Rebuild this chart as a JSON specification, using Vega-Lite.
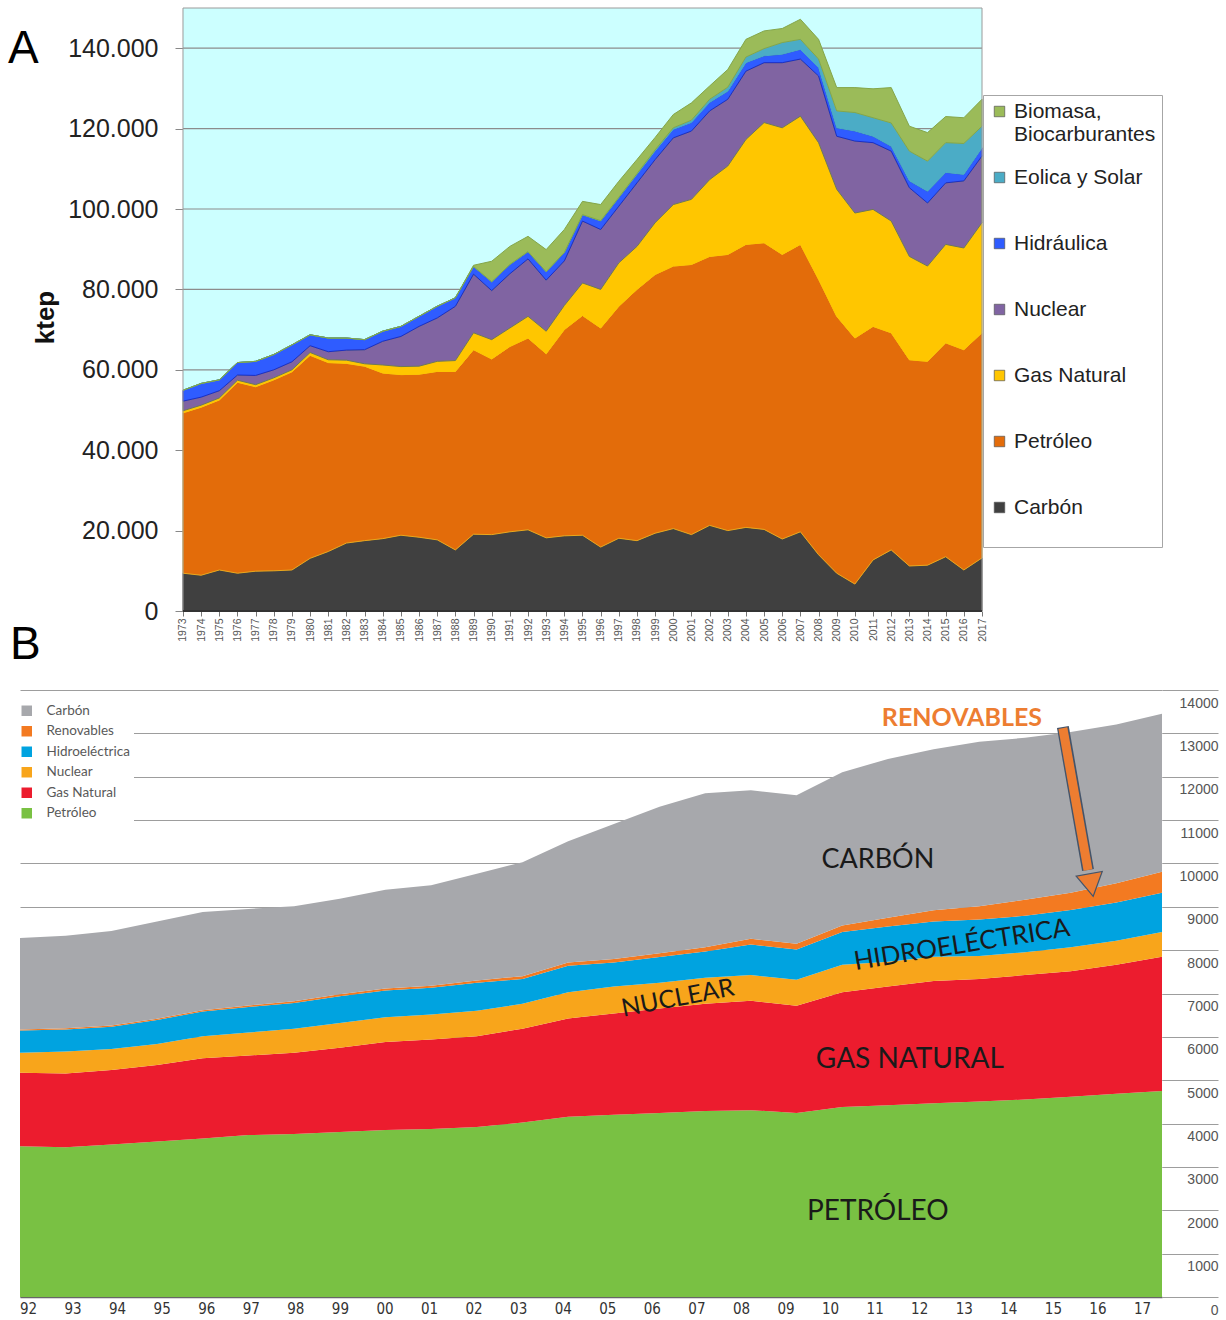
{
"$schema":"https://vega.github.io/schema/vega-lite/v6.json",
"padding":{"left":7,"top":7,"right":4,"bottom":4},
"background":"white",
"config":{"font":"Liberation Sans","view":{"stroke":null},"axis":{"labelFlush":false,"labelOverlap":false}},
"spacing":20,
"resolve":{"scale":{"color":"independent"},"legend":{"color":"independent"}},
"vconcat":[
{"width":962,"height":603,
"resolve":{"scale":{"x":"independent"}},
"layer":[
{"layer":[
{"data":{"values":[{}]},"mark":{"type":"rect","fill":"#ccffff"},
"encoding":{
"x":{"datum":1973,"type":"quantitative","scale":{"domain":[1964.024,2017],"nice":false,"zero":false},"axis":null},
"x2":{"datum":2017},
"y":{"datum":0,"type":"quantitative","scale":{"domain":[0,150000],"nice":false},
"axis":{"values":[0,20000,40000,60000,80000,100000,120000,140000],"labelExpr":"replace(format(datum.value, ','), ',', '.')","offset":-163,"labelFontSize":25,"labelColor":"#222","tickSize":8,"tickColor":"#888","domain":false,"grid":false,"labelPadding":17,"labelFlush":false,"labelOverlap":false,"title":"ktep","titleFontSize":26,"titleFontWeight":"bold","titleColor":"#111","titleX":-138,"titleY":309,"titleAlign":"center","titleBaseline":"middle","titleAngle":-90}},
"y2":{"datum":150000}}},
{"data":{"values":[{"g":20000},{"g":40000},{"g":60000},{"g":80000},{"g":100000},{"g":120000},{"g":140000}]},
"mark":{"type":"rule","stroke":"#8c8c8c","strokeWidth":1.2},
"encoding":{"y":{"field":"g","type":"quantitative"},"x":{"datum":1973,"type":"quantitative","axis":null},"x2":{"datum":2017}}},
{"data":{"values":[
{"year":1973,"fuente":"Carbón","ktep":9400},{"year":1973,"fuente":"Petróleo","ktep":39900},{"year":1973,"fuente":"Gas Natural","ktep":500},{"year":1973,"fuente":"Nuclear","ktep":2400},{"year":1973,"fuente":"Hidráulica","ktep":2700},{"year":1973,"fuente":"Eolica y Solar","ktep":0},{"year":1973,"fuente":"Biomasa, Biocarburantes","ktep":0},
{"year":1974,"fuente":"Carbón","ktep":8900},{"year":1974,"fuente":"Petróleo","ktep":41800},{"year":1974,"fuente":"Gas Natural","ktep":500},{"year":1974,"fuente":"Nuclear","ktep":2000},{"year":1974,"fuente":"Hidráulica","ktep":3400},{"year":1974,"fuente":"Eolica y Solar","ktep":0},{"year":1974,"fuente":"Biomasa, Biocarburantes","ktep":0},
{"year":1975,"fuente":"Carbón","ktep":10200},{"year":1975,"fuente":"Petróleo","ktep":42300},{"year":1975,"fuente":"Gas Natural","ktep":500},{"year":1975,"fuente":"Nuclear","ktep":1800},{"year":1975,"fuente":"Hidráulica","ktep":2700},{"year":1975,"fuente":"Eolica y Solar","ktep":0},{"year":1975,"fuente":"Biomasa, Biocarburantes","ktep":0},
{"year":1976,"fuente":"Carbón","ktep":9400},{"year":1976,"fuente":"Petróleo","ktep":47500},{"year":1976,"fuente":"Gas Natural","ktep":500},{"year":1976,"fuente":"Nuclear","ktep":1300},{"year":1976,"fuente":"Hidráulica","ktep":3100},{"year":1976,"fuente":"Eolica y Solar","ktep":0},{"year":1976,"fuente":"Biomasa, Biocarburantes","ktep":0},
{"year":1977,"fuente":"Carbón","ktep":9900},{"year":1977,"fuente":"Petróleo","ktep":45900},{"year":1977,"fuente":"Gas Natural","ktep":500},{"year":1977,"fuente":"Nuclear","ktep":2300},{"year":1977,"fuente":"Hidráulica","ktep":3500},{"year":1977,"fuente":"Eolica y Solar","ktep":0},{"year":1977,"fuente":"Biomasa, Biocarburantes","ktep":0},
{"year":1978,"fuente":"Carbón","ktep":10000},{"year":1978,"fuente":"Petróleo","ktep":47500},{"year":1978,"fuente":"Gas Natural","ktep":500},{"year":1978,"fuente":"Nuclear","ktep":2000},{"year":1978,"fuente":"Hidráulica","ktep":3800},{"year":1978,"fuente":"Eolica y Solar","ktep":0},{"year":1978,"fuente":"Biomasa, Biocarburantes","ktep":0},
{"year":1979,"fuente":"Carbón","ktep":10200},{"year":1979,"fuente":"Petróleo","ktep":49300},{"year":1979,"fuente":"Gas Natural","ktep":500},{"year":1979,"fuente":"Nuclear","ktep":2000},{"year":1979,"fuente":"Hidráulica","ktep":4200},{"year":1979,"fuente":"Eolica y Solar","ktep":0},{"year":1979,"fuente":"Biomasa, Biocarburantes","ktep":0},
{"year":1980,"fuente":"Carbón","ktep":13100},{"year":1980,"fuente":"Petróleo","ktep":50500},{"year":1980,"fuente":"Gas Natural","ktep":700},{"year":1980,"fuente":"Nuclear","ktep":1700},{"year":1980,"fuente":"Hidráulica","ktep":2700},{"year":1980,"fuente":"Eolica y Solar","ktep":0},{"year":1980,"fuente":"Biomasa, Biocarburantes","ktep":0},
{"year":1981,"fuente":"Carbón","ktep":14800},{"year":1981,"fuente":"Petróleo","ktep":47000},{"year":1981,"fuente":"Gas Natural","ktep":700},{"year":1981,"fuente":"Nuclear","ktep":2000},{"year":1981,"fuente":"Hidráulica","ktep":3400},{"year":1981,"fuente":"Eolica y Solar","ktep":0},{"year":1981,"fuente":"Biomasa, Biocarburantes","ktep":0},
{"year":1982,"fuente":"Carbón","ktep":16900},{"year":1982,"fuente":"Petróleo","ktep":44700},{"year":1982,"fuente":"Gas Natural","ktep":800},{"year":1982,"fuente":"Nuclear","ktep":2500},{"year":1982,"fuente":"Hidráulica","ktep":3000},{"year":1982,"fuente":"Eolica y Solar","ktep":0},{"year":1982,"fuente":"Biomasa, Biocarburantes","ktep":0},
{"year":1983,"fuente":"Carbón","ktep":17500},{"year":1983,"fuente":"Petróleo","ktep":43400},{"year":1983,"fuente":"Gas Natural","ktep":600},{"year":1983,"fuente":"Nuclear","ktep":3500},{"year":1983,"fuente":"Hidráulica","ktep":2500},{"year":1983,"fuente":"Eolica y Solar","ktep":0},{"year":1983,"fuente":"Biomasa, Biocarburantes","ktep":0},
{"year":1984,"fuente":"Carbón","ktep":18000},{"year":1984,"fuente":"Petróleo","ktep":41200},{"year":1984,"fuente":"Gas Natural","ktep":2000},{"year":1984,"fuente":"Nuclear","ktep":5900},{"year":1984,"fuente":"Hidráulica","ktep":2500},{"year":1984,"fuente":"Eolica y Solar","ktep":0},{"year":1984,"fuente":"Biomasa, Biocarburantes","ktep":0},
{"year":1985,"fuente":"Carbón","ktep":18850},{"year":1985,"fuente":"Petróleo","ktep":39950},{"year":1985,"fuente":"Gas Natural","ktep":2000},{"year":1985,"fuente":"Nuclear","ktep":7500},{"year":1985,"fuente":"Hidráulica","ktep":2500},{"year":1985,"fuente":"Eolica y Solar","ktep":0},{"year":1985,"fuente":"Biomasa, Biocarburantes","ktep":0},
{"year":1986,"fuente":"Carbón","ktep":18350},{"year":1986,"fuente":"Petróleo","ktep":40550},{"year":1986,"fuente":"Gas Natural","ktep":2000},{"year":1986,"fuente":"Nuclear","ktep":9900},{"year":1986,"fuente":"Hidráulica","ktep":2500},{"year":1986,"fuente":"Eolica y Solar","ktep":0},{"year":1986,"fuente":"Biomasa, Biocarburantes","ktep":0},
{"year":1987,"fuente":"Carbón","ktep":17700},{"year":1987,"fuente":"Petróleo","ktep":41900},{"year":1987,"fuente":"Gas Natural","ktep":2500},{"year":1987,"fuente":"Nuclear","ktep":10800},{"year":1987,"fuente":"Hidráulica","ktep":2900},{"year":1987,"fuente":"Eolica y Solar","ktep":0},{"year":1987,"fuente":"Biomasa, Biocarburantes","ktep":0},
{"year":1988,"fuente":"Carbón","ktep":15200},{"year":1988,"fuente":"Petróleo","ktep":44400},{"year":1988,"fuente":"Gas Natural","ktep":2700},{"year":1988,"fuente":"Nuclear","ktep":13500},{"year":1988,"fuente":"Hidráulica","ktep":2100},{"year":1988,"fuente":"Eolica y Solar","ktep":0},{"year":1988,"fuente":"Biomasa, Biocarburantes","ktep":0},
{"year":1989,"fuente":"Carbón","ktep":19100},{"year":1989,"fuente":"Petróleo","ktep":45900},{"year":1989,"fuente":"Gas Natural","ktep":4200},{"year":1989,"fuente":"Nuclear","ktep":14600},{"year":1989,"fuente":"Hidráulica","ktep":1900},{"year":1989,"fuente":"Eolica y Solar","ktep":0},{"year":1989,"fuente":"Biomasa, Biocarburantes","ktep":300},
{"year":1990,"fuente":"Carbón","ktep":19000},{"year":1990,"fuente":"Petróleo","ktep":43700},{"year":1990,"fuente":"Gas Natural","ktep":4800},{"year":1990,"fuente":"Nuclear","ktep":12200},{"year":1990,"fuente":"Hidráulica","ktep":2200},{"year":1990,"fuente":"Eolica y Solar","ktep":0},{"year":1990,"fuente":"Biomasa, Biocarburantes","ktep":5100},
{"year":1991,"fuente":"Carbón","ktep":19700},{"year":1991,"fuente":"Petróleo","ktep":46100},{"year":1991,"fuente":"Gas Natural","ktep":4600},{"year":1991,"fuente":"Nuclear","ktep":13500},{"year":1991,"fuente":"Hidráulica","ktep":2300},{"year":1991,"fuente":"Eolica y Solar","ktep":0},{"year":1991,"fuente":"Biomasa, Biocarburantes","ktep":4500},
{"year":1992,"fuente":"Carbón","ktep":20200},{"year":1992,"fuente":"Petróleo","ktep":47700},{"year":1992,"fuente":"Gas Natural","ktep":5400},{"year":1992,"fuente":"Nuclear","ktep":14300},{"year":1992,"fuente":"Hidráulica","ktep":1800},{"year":1992,"fuente":"Eolica y Solar","ktep":0},{"year":1992,"fuente":"Biomasa, Biocarburantes","ktep":3800},
{"year":1993,"fuente":"Carbón","ktep":18200},{"year":1993,"fuente":"Petróleo","ktep":45800},{"year":1993,"fuente":"Gas Natural","ktep":5600},{"year":1993,"fuente":"Nuclear","ktep":12700},{"year":1993,"fuente":"Hidráulica","ktep":2100},{"year":1993,"fuente":"Eolica y Solar","ktep":0},{"year":1993,"fuente":"Biomasa, Biocarburantes","ktep":5500},
{"year":1994,"fuente":"Carbón","ktep":18700},{"year":1994,"fuente":"Petróleo","ktep":51300},{"year":1994,"fuente":"Gas Natural","ktep":6000},{"year":1994,"fuente":"Nuclear","ktep":11100},{"year":1994,"fuente":"Hidráulica","ktep":2100},{"year":1994,"fuente":"Eolica y Solar","ktep":0},{"year":1994,"fuente":"Biomasa, Biocarburantes","ktep":5700},
{"year":1995,"fuente":"Carbón","ktep":18850},{"year":1995,"fuente":"Petróleo","ktep":54650},{"year":1995,"fuente":"Gas Natural","ktep":8100},{"year":1995,"fuente":"Nuclear","ktep":15400},{"year":1995,"fuente":"Hidráulica","ktep":1600},{"year":1995,"fuente":"Eolica y Solar","ktep":0},{"year":1995,"fuente":"Biomasa, Biocarburantes","ktep":3300},
{"year":1996,"fuente":"Carbón","ktep":15900},{"year":1996,"fuente":"Petróleo","ktep":54500},{"year":1996,"fuente":"Gas Natural","ktep":9600},{"year":1996,"fuente":"Nuclear","ktep":14900},{"year":1996,"fuente":"Hidráulica","ktep":2100},{"year":1996,"fuente":"Eolica y Solar","ktep":100},{"year":1996,"fuente":"Biomasa, Biocarburantes","ktep":4000},
{"year":1997,"fuente":"Carbón","ktep":18100},{"year":1997,"fuente":"Petróleo","ktep":57700},{"year":1997,"fuente":"Gas Natural","ktep":10800},{"year":1997,"fuente":"Nuclear","ktep":14100},{"year":1997,"fuente":"Hidráulica","ktep":2100},{"year":1997,"fuente":"Eolica y Solar","ktep":100},{"year":1997,"fuente":"Biomasa, Biocarburantes","ktep":4000},
{"year":1998,"fuente":"Carbón","ktep":17500},{"year":1998,"fuente":"Petróleo","ktep":62500},{"year":1998,"fuente":"Gas Natural","ktep":10700},{"year":1998,"fuente":"Nuclear","ktep":15800},{"year":1998,"fuente":"Hidráulica","ktep":2100},{"year":1998,"fuente":"Eolica y Solar","ktep":200},{"year":1998,"fuente":"Biomasa, Biocarburantes","ktep":3500},
{"year":1999,"fuente":"Carbón","ktep":19350},{"year":1999,"fuente":"Petróleo","ktep":64350},{"year":1999,"fuente":"Gas Natural","ktep":12900},{"year":1999,"fuente":"Nuclear","ktep":15700},{"year":1999,"fuente":"Hidráulica","ktep":2100},{"year":1999,"fuente":"Eolica y Solar","ktep":300},{"year":1999,"fuente":"Biomasa, Biocarburantes","ktep":3100},
{"year":2000,"fuente":"Carbón","ktep":20500},{"year":2000,"fuente":"Petróleo","ktep":65300},{"year":2000,"fuente":"Gas Natural","ktep":15300},{"year":2000,"fuente":"Nuclear","ktep":16600},{"year":2000,"fuente":"Hidráulica","ktep":2100},{"year":2000,"fuente":"Eolica y Solar","ktep":400},{"year":2000,"fuente":"Biomasa, Biocarburantes","ktep":3300},
{"year":2001,"fuente":"Carbón","ktep":19000},{"year":2001,"fuente":"Petróleo","ktep":67200},{"year":2001,"fuente":"Gas Natural","ktep":16200},{"year":2001,"fuente":"Nuclear","ktep":17000},{"year":2001,"fuente":"Hidráulica","ktep":2100},{"year":2001,"fuente":"Eolica y Solar","ktep":600},{"year":2001,"fuente":"Biomasa, Biocarburantes","ktep":4300},
{"year":2002,"fuente":"Carbón","ktep":21300},{"year":2002,"fuente":"Petróleo","ktep":66900},{"year":2002,"fuente":"Gas Natural","ktep":19100},{"year":2002,"fuente":"Nuclear","ktep":17100},{"year":2002,"fuente":"Hidráulica","ktep":2100},{"year":2002,"fuente":"Eolica y Solar","ktep":800},{"year":2002,"fuente":"Biomasa, Biocarburantes","ktep":3300},
{"year":2003,"fuente":"Carbón","ktep":20000},{"year":2003,"fuente":"Petróleo","ktep":68700},{"year":2003,"fuente":"Gas Natural","ktep":22000},{"year":2003,"fuente":"Nuclear","ktep":16600},{"year":2003,"fuente":"Hidráulica","ktep":2000},{"year":2003,"fuente":"Eolica y Solar","ktep":1000},{"year":2003,"fuente":"Biomasa, Biocarburantes","ktep":4400},
{"year":2004,"fuente":"Carbón","ktep":20800},{"year":2004,"fuente":"Petróleo","ktep":70400},{"year":2004,"fuente":"Gas Natural","ktep":26100},{"year":2004,"fuente":"Nuclear","ktep":17000},{"year":2004,"fuente":"Hidráulica","ktep":2100},{"year":2004,"fuente":"Eolica y Solar","ktep":1400},{"year":2004,"fuente":"Biomasa, Biocarburantes","ktep":4400},
{"year":2005,"fuente":"Carbón","ktep":20300},{"year":2005,"fuente":"Petróleo","ktep":71300},{"year":2005,"fuente":"Gas Natural","ktep":29900},{"year":2005,"fuente":"Nuclear","ktep":14900},{"year":2005,"fuente":"Hidráulica","ktep":1700},{"year":2005,"fuente":"Eolica y Solar","ktep":1800},{"year":2005,"fuente":"Biomasa, Biocarburantes","ktep":4400},
{"year":2006,"fuente":"Carbón","ktep":17900},{"year":2006,"fuente":"Petróleo","ktep":70800},{"year":2006,"fuente":"Gas Natural","ktep":31500},{"year":2006,"fuente":"Nuclear","ktep":16200},{"year":2006,"fuente":"Hidráulica","ktep":2100},{"year":2006,"fuente":"Eolica y Solar","ktep":2900},{"year":2006,"fuente":"Biomasa, Biocarburantes","ktep":3500},
{"year":2007,"fuente":"Carbón","ktep":19700},{"year":2007,"fuente":"Petróleo","ktep":71500},{"year":2007,"fuente":"Gas Natural","ktep":31900},{"year":2007,"fuente":"Nuclear","ktep":14200},{"year":2007,"fuente":"Hidráulica","ktep":2400},{"year":2007,"fuente":"Eolica y Solar","ktep":2500},{"year":2007,"fuente":"Biomasa, Biocarburantes","ktep":5000},
{"year":2008,"fuente":"Carbón","ktep":14000},{"year":2008,"fuente":"Petróleo","ktep":68500},{"year":2008,"fuente":"Gas Natural","ktep":34000},{"year":2008,"fuente":"Nuclear","ktep":16600},{"year":2008,"fuente":"Hidráulica","ktep":2100},{"year":2008,"fuente":"Eolica y Solar","ktep":2100},{"year":2008,"fuente":"Biomasa, Biocarburantes","ktep":4900},
{"year":2009,"fuente":"Carbón","ktep":9400},{"year":2009,"fuente":"Petróleo","ktep":63900},{"year":2009,"fuente":"Gas Natural","ktep":31600},{"year":2009,"fuente":"Nuclear","ktep":13200},{"year":2009,"fuente":"Hidráulica","ktep":2100},{"year":2009,"fuente":"Eolica y Solar","ktep":4200},{"year":2009,"fuente":"Biomasa, Biocarburantes","ktep":5800},
{"year":2010,"fuente":"Carbón","ktep":6700},{"year":2010,"fuente":"Petróleo","ktep":61200},{"year":2010,"fuente":"Gas Natural","ktep":31100},{"year":2010,"fuente":"Nuclear","ktep":17900},{"year":2010,"fuente":"Hidráulica","ktep":2500},{"year":2010,"fuente":"Eolica y Solar","ktep":4600},{"year":2010,"fuente":"Biomasa, Biocarburantes","ktep":6200},
{"year":2011,"fuente":"Carbón","ktep":12700},{"year":2011,"fuente":"Petróleo","ktep":58100},{"year":2011,"fuente":"Gas Natural","ktep":29100},{"year":2011,"fuente":"Nuclear","ktep":16600},{"year":2011,"fuente":"Hidráulica","ktep":1600},{"year":2011,"fuente":"Eolica y Solar","ktep":4600},{"year":2011,"fuente":"Biomasa, Biocarburantes","ktep":7200},
{"year":2012,"fuente":"Carbón","ktep":15200},{"year":2012,"fuente":"Petróleo","ktep":54000},{"year":2012,"fuente":"Gas Natural","ktep":27800},{"year":2012,"fuente":"Nuclear","ktep":17400},{"year":2012,"fuente":"Hidráulica","ktep":1200},{"year":2012,"fuente":"Eolica y Solar","ktep":5800},{"year":2012,"fuente":"Biomasa, Biocarburantes","ktep":8800},
{"year":2013,"fuente":"Carbón","ktep":11200},{"year":2013,"fuente":"Petróleo","ktep":51300},{"year":2013,"fuente":"Gas Natural","ktep":25700},{"year":2013,"fuente":"Nuclear","ktep":17100},{"year":2013,"fuente":"Hidráulica","ktep":1700},{"year":2013,"fuente":"Eolica y Solar","ktep":7400},{"year":2013,"fuente":"Biomasa, Biocarburantes","ktep":6200},
{"year":2014,"fuente":"Carbón","ktep":11400},{"year":2014,"fuente":"Petróleo","ktep":50700},{"year":2014,"fuente":"Gas Natural","ktep":23700},{"year":2014,"fuente":"Nuclear","ktep":15700},{"year":2014,"fuente":"Hidráulica","ktep":2900},{"year":2014,"fuente":"Eolica y Solar","ktep":7500},{"year":2014,"fuente":"Biomasa, Biocarburantes","ktep":7100},
{"year":2015,"fuente":"Carbón","ktep":13500},{"year":2015,"fuente":"Petróleo","ktep":53200},{"year":2015,"fuente":"Gas Natural","ktep":24500},{"year":2015,"fuente":"Nuclear","ktep":15300},{"year":2015,"fuente":"Hidráulica","ktep":2600},{"year":2015,"fuente":"Eolica y Solar","ktep":7400},{"year":2015,"fuente":"Biomasa, Biocarburantes","ktep":6500},
{"year":2016,"fuente":"Carbón","ktep":10200},{"year":2016,"fuente":"Petróleo","ktep":54800},{"year":2016,"fuente":"Gas Natural","ktep":25300},{"year":2016,"fuente":"Nuclear","ktep":16700},{"year":2016,"fuente":"Hidráulica","ktep":1600},{"year":2016,"fuente":"Eolica y Solar","ktep":7700},{"year":2016,"fuente":"Biomasa, Biocarburantes","ktep":6400},
{"year":2017,"fuente":"Carbón","ktep":13200},{"year":2017,"fuente":"Petróleo","ktep":56000},{"year":2017,"fuente":"Gas Natural","ktep":27400},{"year":2017,"fuente":"Nuclear","ktep":16600},{"year":2017,"fuente":"Hidráulica","ktep":2000},{"year":2017,"fuente":"Eolica y Solar","ktep":5400},{"year":2017,"fuente":"Biomasa, Biocarburantes","ktep":6700}
]},
"transform":[{"lookup":"fuente","from":{"data":{"values":[{"fuente":"Carbón","orden":1},{"fuente":"Petróleo","orden":2},{"fuente":"Gas Natural","orden":3},{"fuente":"Nuclear","orden":4},{"fuente":"Hidráulica","orden":5},{"fuente":"Eolica y Solar","orden":6},{"fuente":"Biomasa, Biocarburantes","orden":7}]},"key":"fuente","fields":["orden"]}}],
"mark":{"type":"area","strokeWidth":1},
"encoding":{
"x":{"field":"year","type":"quantitative","axis":null},
"y":{"field":"ktep","type":"quantitative","stack":"zero"},
"order":{"field":"orden","type":"quantitative","sort":"ascending"},
"stroke":{"field":"fuente","type":"nominal","legend":null,
"scale":{"domain":["Biomasa, Biocarburantes","Eolica y Solar","Hidráulica","Nuclear","Gas Natural","Petróleo","Carbón"],"range":["#84a64a","#4bacc6","#1c2cc8","#6e7a55","#ffc600","#eaa81c","#404040"]}},
"color":{"field":"fuente","type":"nominal",
"scale":{"domain":["Biomasa, Biocarburantes","Eolica y Solar","Hidráulica","Nuclear","Gas Natural","Petróleo","Carbón"],"range":["#9bbb59","#4bacc6","#2f5cff","#8064a2","#ffc600","#e36c0a","#404040"]},
"legend":{"orient":"none","legendX":963,"legendY":87,"title":null,"fillColor":"white","strokeColor":"#a6a6a6","padding":6,"symbolType":"square","symbolSize":110,"symbolStrokeColor":"#555","symbolStrokeWidth":0.7,"labelFont":"Liberation Sans","labelFontSize":21,"labelColor":"#222","labelOffset":4,"labelLimit":260,"rowPadding":21,
"values":["Biomasa, Biocarburantes","Eolica y Solar","Hidráulica","Nuclear","Gas Natural","Petróleo","Carbón"],
"labelExpr":"datum.label == 'Biomasa, Biocarburantes' ? ['Biomasa,', 'Biocarburantes'] : [datum.label, ' ']"}}}},
{"data":{"values":[{}]},"mark":{"type":"rect","fillOpacity":0,"stroke":"#9a9a9a","strokeWidth":1},
"encoding":{"x":{"datum":1973,"type":"quantitative","axis":null},"x2":{"datum":2017},"y":{"datum":0,"type":"quantitative"},"y2":{"datum":150000}}},
{"data":{"values":[{}]},"mark":{"type":"rule","stroke":"#333","strokeWidth":2},
"encoding":{"x":{"datum":1973,"type":"quantitative","axis":null},"x2":{"datum":2017},"y":{"datum":0,"type":"quantitative"}}},
{"data":{"values":[{}]},"mark":{"type":"text","text":"A","fontSize":46,"align":"left","baseline":"middle","color":"#000"},
"encoding":{"x":{"datum":1963.363,"type":"quantitative","axis":null},"y":{"datum":139700,"type":"quantitative"}}},
{"data":{"values":[{}]},"mark":{"type":"text","text":"B","fontSize":46,"align":"left","baseline":"middle","color":"#000"},
"encoding":{"x":{"datum":1963.473,"type":"quantitative","axis":null},"y":{"datum":-8470,"type":"quantitative"}}}
]},
{"data":{"values":[{}]},"mark":{"type":"rule","opacity":0},
"encoding":{"x":{"datum":1990,"type":"quantitative","scale":{"domain":[1964.024,2017],"nice":false,"zero":false},
"axis":{"orient":"bottom","values":[1973,1974,1975,1976,1977,1978,1979,1980,1981,1982,1983,1984,1985,1986,1987,1988,1989,1990,1991,1992,1993,1994,1995,1996,1997,1998,1999,2000,2001,2002,2003,2004,2005,2006,2007,2008,2009,2010,2011,2012,2013,2014,2015,2016,2017],"format":"d","labelAngle":-90,"labelFontSize":10.5,"labelColor":"#555","tickSize":5,"tickColor":"#777","domain":false,"grid":false,"title":null,"labelPadding":2,"labelOverlap":false,"labelSeparation":0,"labelFlush":false}}}}
]},
{"width":1142,"height":607,
"resolve":{"scale":{"x":"independent"}},
"layer":[
{"layer":[
{"data":{"values":[
{"year":1992,"fuente":"Petróleo","mtep":3478},{"year":1992,"fuente":"Gas Natural","mtep":1695},{"year":1992,"fuente":"Nuclear","mtep":459},{"year":1992,"fuente":"Hidroeléctrica","mtep":512},{"year":1992,"fuente":"Renovables","mtep":26},{"year":1992,"fuente":"Carbón","mtep":2110},
{"year":1993,"fuente":"Petróleo","mtep":3452},{"year":1993,"fuente":"Gas Natural","mtep":1703},{"year":1993,"fuente":"Nuclear","mtep":505},{"year":1993,"fuente":"Hidroeléctrica","mtep":510},{"year":1993,"fuente":"Renovables","mtep":26},{"year":1993,"fuente":"Carbón","mtep":2137},
{"year":1994,"fuente":"Petróleo","mtep":3515},{"year":1994,"fuente":"Gas Natural","mtep":1721},{"year":1994,"fuente":"Nuclear","mtep":484},{"year":1994,"fuente":"Hidroeléctrica","mtep":512},{"year":1994,"fuente":"Renovables","mtep":28},{"year":1994,"fuente":"Carbón","mtep":2179},
{"year":1995,"fuente":"Petróleo","mtep":3584},{"year":1995,"fuente":"Gas Natural","mtep":1767},{"year":1995,"fuente":"Nuclear","mtep":484},{"year":1995,"fuente":"Hidroeléctrica","mtep":556},{"year":1995,"fuente":"Renovables","mtep":29},{"year":1995,"fuente":"Carbón","mtep":2240},
{"year":1996,"fuente":"Petróleo","mtep":3656},{"year":1996,"fuente":"Gas Natural","mtep":1852},{"year":1996,"fuente":"Nuclear","mtep":505},{"year":1996,"fuente":"Hidroeléctrica","mtep":572},{"year":1996,"fuente":"Renovables","mtep":30},{"year":1996,"fuente":"Carbón","mtep":2264},
{"year":1997,"fuente":"Petróleo","mtep":3734},{"year":1997,"fuente":"Gas Natural","mtep":1836},{"year":1997,"fuente":"Nuclear","mtep":530},{"year":1997,"fuente":"Hidroeléctrica","mtep":591},{"year":1997,"fuente":"Renovables","mtep":34},{"year":1997,"fuente":"Carbón","mtep":2226},
{"year":1998,"fuente":"Petróleo","mtep":3762},{"year":1998,"fuente":"Gas Natural","mtep":1870},{"year":1998,"fuente":"Nuclear","mtep":556},{"year":1998,"fuente":"Hidroeléctrica","mtep":593},{"year":1998,"fuente":"Renovables","mtep":39},{"year":1998,"fuente":"Carbón","mtep":2192},
{"year":1999,"fuente":"Petróleo","mtep":3805},{"year":1999,"fuente":"Gas Natural","mtep":1942},{"year":1999,"fuente":"Nuclear","mtep":572},{"year":1999,"fuente":"Hidroeléctrica","mtep":619},{"year":1999,"fuente":"Renovables","mtep":42},{"year":1999,"fuente":"Carbón","mtep":2208},
{"year":2000,"fuente":"Petróleo","mtep":3849},{"year":2000,"fuente":"Gas Natural","mtep":2030},{"year":2000,"fuente":"Nuclear","mtep":574},{"year":2000,"fuente":"Hidroeléctrica","mtep":618},{"year":2000,"fuente":"Renovables","mtep":44},{"year":2000,"fuente":"Carbón","mtep":2276},
{"year":2001,"fuente":"Petróleo","mtep":3875},{"year":2001,"fuente":"Gas Natural","mtep":2066},{"year":2001,"fuente":"Nuclear","mtep":574},{"year":2001,"fuente":"Hidroeléctrica","mtep":618},{"year":2001,"fuente":"Renovables","mtep":47},{"year":2001,"fuente":"Carbón","mtep":2317},
{"year":2002,"fuente":"Petróleo","mtep":3920},{"year":2002,"fuente":"Gas Natural","mtep":2093},{"year":2002,"fuente":"Nuclear","mtep":590},{"year":2002,"fuente":"Hidroeléctrica","mtep":644},{"year":2002,"fuente":"Renovables","mtep":53},{"year":2002,"fuente":"Carbón","mtep":2463},
{"year":2003,"fuente":"Petróleo","mtep":4025},{"year":2003,"fuente":"Gas Natural","mtep":2163},{"year":2003,"fuente":"Nuclear","mtep":574},{"year":2003,"fuente":"Hidroeléctrica","mtep":574},{"year":2003,"fuente":"Renovables","mtep":64},{"year":2003,"fuente":"Carbón","mtep":2628},
{"year":2004,"fuente":"Petróleo","mtep":4158},{"year":2004,"fuente":"Gas Natural","mtep":2267},{"year":2004,"fuente":"Nuclear","mtep":603},{"year":2004,"fuente":"Hidroeléctrica","mtep":612},{"year":2004,"fuente":"Renovables","mtep":75},{"year":2004,"fuente":"Carbón","mtep":2797},
{"year":2005,"fuente":"Petróleo","mtep":4202},{"year":2005,"fuente":"Gas Natural","mtep":2339},{"year":2005,"fuente":"Nuclear","mtep":618},{"year":2005,"fuente":"Hidroeléctrica","mtep":556},{"year":2005,"fuente":"Renovables","mtep":81},{"year":2005,"fuente":"Carbón","mtep":3115},
{"year":2006,"fuente":"Petróleo","mtep":4246},{"year":2006,"fuente":"Gas Natural","mtep":2410},{"year":2006,"fuente":"Nuclear","mtep":591},{"year":2006,"fuente":"Hidroeléctrica","mtep":592},{"year":2006,"fuente":"Renovables","mtep":88},{"year":2006,"fuente":"Carbón","mtep":3381},
{"year":2007,"fuente":"Petróleo","mtep":4290},{"year":2007,"fuente":"Gas Natural","mtep":2472},{"year":2007,"fuente":"Nuclear","mtep":600},{"year":2007,"fuente":"Hidroeléctrica","mtep":609},{"year":2007,"fuente":"Renovables","mtep":97},{"year":2007,"fuente":"Carbón","mtep":3549},
{"year":2008,"fuente":"Petróleo","mtep":4308},{"year":2008,"fuente":"Gas Natural","mtep":2524},{"year":2008,"fuente":"Nuclear","mtep":592},{"year":2008,"fuente":"Hidroeléctrica","mtep":706},{"year":2008,"fuente":"Renovables","mtep":132},{"year":2008,"fuente":"Carbón","mtep":3424},
{"year":2009,"fuente":"Petróleo","mtep":4246},{"year":2009,"fuente":"Gas Natural","mtep":2472},{"year":2009,"fuente":"Nuclear","mtep":600},{"year":2009,"fuente":"Hidroeléctrica","mtep":697},{"year":2009,"fuente":"Renovables","mtep":135},{"year":2009,"fuente":"Carbón","mtep":3423},
{"year":2010,"fuente":"Petróleo","mtep":4380},{"year":2010,"fuente":"Gas Natural","mtep":2648},{"year":2010,"fuente":"Nuclear","mtep":634},{"year":2010,"fuente":"Hidroeléctrica","mtep":758},{"year":2010,"fuente":"Renovables","mtep":150},{"year":2010,"fuente":"Carbón","mtep":3531},
{"year":2011,"fuente":"Petróleo","mtep":4424},{"year":2011,"fuente":"Gas Natural","mtep":2735},{"year":2011,"fuente":"Nuclear","mtep":574},{"year":2011,"fuente":"Hidroeléctrica","mtep":812},{"year":2011,"fuente":"Renovables","mtep":203},{"year":2011,"fuente":"Carbón","mtep":3662},
{"year":2012,"fuente":"Petróleo","mtep":4467},{"year":2012,"fuente":"Gas Natural","mtep":2823},{"year":2012,"fuente":"Nuclear","mtep":556},{"year":2012,"fuente":"Hidroeléctrica","mtep":813},{"year":2012,"fuente":"Renovables","mtep":263},{"year":2012,"fuente":"Carbón","mtep":3709},
{"year":2013,"fuente":"Petróleo","mtep":4511},{"year":2013,"fuente":"Gas Natural","mtep":2825},{"year":2013,"fuente":"Nuclear","mtep":529},{"year":2013,"fuente":"Hidroeléctrica","mtep":839},{"year":2013,"fuente":"Renovables","mtep":309},{"year":2013,"fuente":"Carbón","mtep":3795},
{"year":2014,"fuente":"Petróleo","mtep":4555},{"year":2014,"fuente":"Gas Natural","mtep":2869},{"year":2014,"fuente":"Nuclear","mtep":530},{"year":2014,"fuente":"Hidroeléctrica","mtep":838},{"year":2014,"fuente":"Renovables","mtep":371},{"year":2014,"fuente":"Carbón","mtep":3734},
{"year":2015,"fuente":"Petróleo","mtep":4617},{"year":2015,"fuente":"Gas Natural","mtep":2895},{"year":2015,"fuente":"Nuclear","mtep":556},{"year":2015,"fuente":"Hidroeléctrica","mtep":856},{"year":2015,"fuente":"Renovables","mtep":398},{"year":2015,"fuente":"Carbón","mtep":3707},
{"year":2016,"fuente":"Petróleo","mtep":4689},{"year":2016,"fuente":"Gas Natural","mtep":2973},{"year":2016,"fuente":"Nuclear","mtep":556},{"year":2016,"fuente":"Hidroeléctrica","mtep":883},{"year":2016,"fuente":"Renovables","mtep":440},{"year":2016,"fuente":"Carbón","mtep":3665},
{"year":2017,"fuente":"Petróleo","mtep":4749},{"year":2017,"fuente":"Gas Natural","mtep":3100},{"year":2017,"fuente":"Nuclear","mtep":571},{"year":2017,"fuente":"Hidroeléctrica","mtep":902},{"year":2017,"fuente":"Renovables","mtep":485},{"year":2017,"fuente":"Carbón","mtep":3646}
]},
"transform":[{"lookup":"fuente","from":{"data":{"values":[{"fuente":"Petróleo","orden":1},{"fuente":"Gas Natural","orden":2},{"fuente":"Nuclear","orden":3},{"fuente":"Hidroeléctrica","orden":4},{"fuente":"Renovables","orden":5},{"fuente":"Carbón","orden":6}]},"key":"fuente","fields":["orden"]}}],
"mark":{"type":"area"},
"encoding":{
"x":{"field":"year","type":"quantitative","scale":{"domain":[1992,2017],"nice":false,"zero":false},"axis":null},
"y":{"field":"mtep","type":"quantitative","stack":"zero","scale":{"domain":[0,14000],"nice":false},
"axis":{"orient":"right","values":[0,1000,2000,3000,4000,5000,6000,7000,8000,9000,10000,11000,12000,13000,14000],"format":"d","grid":true,"gridColor":"#9d9d9d","gridWidth":1,"tickSize":56,"tickColor":"#9d9d9d","tickWidth":1,"domain":false,"labelAlign":"right","labelBaseline":"middle","labelPadding":0,"labelOffset":13,"labelFontSize":14,"labelColor":"#555","labelFlush":false,"labelOverlap":false,"title":null}},
"order":{"field":"orden","type":"quantitative","sort":"ascending"},
"color":{"field":"fuente","type":"nominal",
"scale":{"domain":["Carbón","Renovables","Hidroeléctrica","Nuclear","Gas Natural","Petróleo"],"range":["#a7a8ac","#f37a21","#00a3e0","#f8a51b","#ec1c2e","#79c143"]},
"legend":{"orient":"none","legendX":-4,"legendY":10,"title":null,"fillColor":"white","padding":4,"symbolType":"square","symbolSize":110,"symbolStrokeWidth":0,"labelFont":"Lato","labelFontSize":13.5,"labelColor":"#595959","labelOffset":13,"rowPadding":5.5,
"values":["Carbón","Renovables","Hidroeléctrica","Nuclear","Gas Natural","Petróleo"]}}}},
{"data":{"values":[{}]},"mark":{"type":"text","text":"CARBÓN","font":"Lato","fontSize":27,"color":"#1a1a1a"},
"encoding":{"x":{"datum":2010.78,"type":"quantitative","axis":null},"y":{"datum":10079,"type":"quantitative"}}},
{"data":{"values":[{}]},"mark":{"type":"text","text":"GAS NATURAL","font":"Lato","fontSize":28,"color":"#1a1a1a"},
"encoding":{"x":{"datum":2011.48,"type":"quantitative","axis":null},"y":{"datum":5466,"type":"quantitative"}}},
{"data":{"values":[{}]},"mark":{"type":"text","text":"PETRÓLEO","font":"Lato","fontSize":28,"color":"#1a1a1a"},
"encoding":{"x":{"datum":2010.78,"type":"quantitative","axis":null},"y":{"datum":1960,"type":"quantitative"}}},
{"data":{"values":[{}]},"mark":{"type":"text","text":"NUCLEAR","font":"Lato","fontSize":25,"angle":-11,"color":"#1a1a1a"},
"encoding":{"x":{"datum":2006.4,"type":"quantitative","axis":null},"y":{"datum":6896,"type":"quantitative"}}},
{"data":{"values":[{}]},"mark":{"type":"text","text":"HIDROELÉCTRICA","font":"Lato","fontSize":26,"angle":-9,"color":"#1a1a1a"},
"encoding":{"x":{"datum":2012.62,"type":"quantitative","axis":null},"y":{"datum":8120,"type":"quantitative"}}},
{"data":{"values":[{}]},"mark":{"type":"text","text":"RENOVABLES","font":"Lato","fontSize":25,"fontWeight":"bold","color":"#ed7d31"},
"encoding":{"x":{"datum":2012.62,"type":"quantitative","axis":null},"y":{"datum":13353,"type":"quantitative"}}},
{"data":{"values":[{}]},"mark":{"type":"rule","stroke":"#44546a","strokeWidth":12,"strokeCap":"butt"},
"encoding":{"x":{"datum":2014.83,"type":"quantitative","axis":null},"y":{"datum":13146,"type":"quantitative"},"x2":{"datum":2015.38},"y2":{"datum":9848}}},
{"data":{"values":[{}]},"mark":{"type":"rule","stroke":"#ed7d31","strokeWidth":9,"strokeCap":"butt"},
"encoding":{"x":{"datum":2014.83,"type":"quantitative","axis":null},"y":{"datum":13120,"type":"quantitative"},"x2":{"datum":2015.38},"y2":{"datum":9848}}},
{"data":{"values":[{}]},"mark":{"type":"point","shape":"triangle-down","size":700,"filled":true,"fill":"#ed7d31","stroke":"#44546a","strokeWidth":1.2,"angle":-10,"opacity":1},
"encoding":{"x":{"datum":2015.45,"type":"quantitative","axis":null},"y":{"datum":9502,"type":"quantitative"}}}
]},
{"data":{"values":[{}]},"mark":{"type":"rule","opacity":0},
"encoding":{"x":{"datum":2000,"type":"quantitative","scale":{"domain":[1991.8205,2017.449],"nice":false,"zero":false},
"axis":{"orient":"bottom","values":[1992,1993,1994,1995,1996,1997,1998,1999,2000,2001,2002,2003,2004,2005,2006,2007,2008,2009,2010,2011,2012,2013,2014,2015,2016,2017],"labelExpr":"slice(toString(datum.value), 2)","ticks":false,"domain":true,"domainColor":"#666","domainWidth":1.5,"grid":false,"title":null,"labelFont":"'Liberation Sans Narrow', 'DejaVu Sans Condensed', sans-serif","labelFontSize":15,"labelColor":"#333","labelPadding":4,"labelFlush":false,"labelOverlap":false}}}}
]}
]
}
